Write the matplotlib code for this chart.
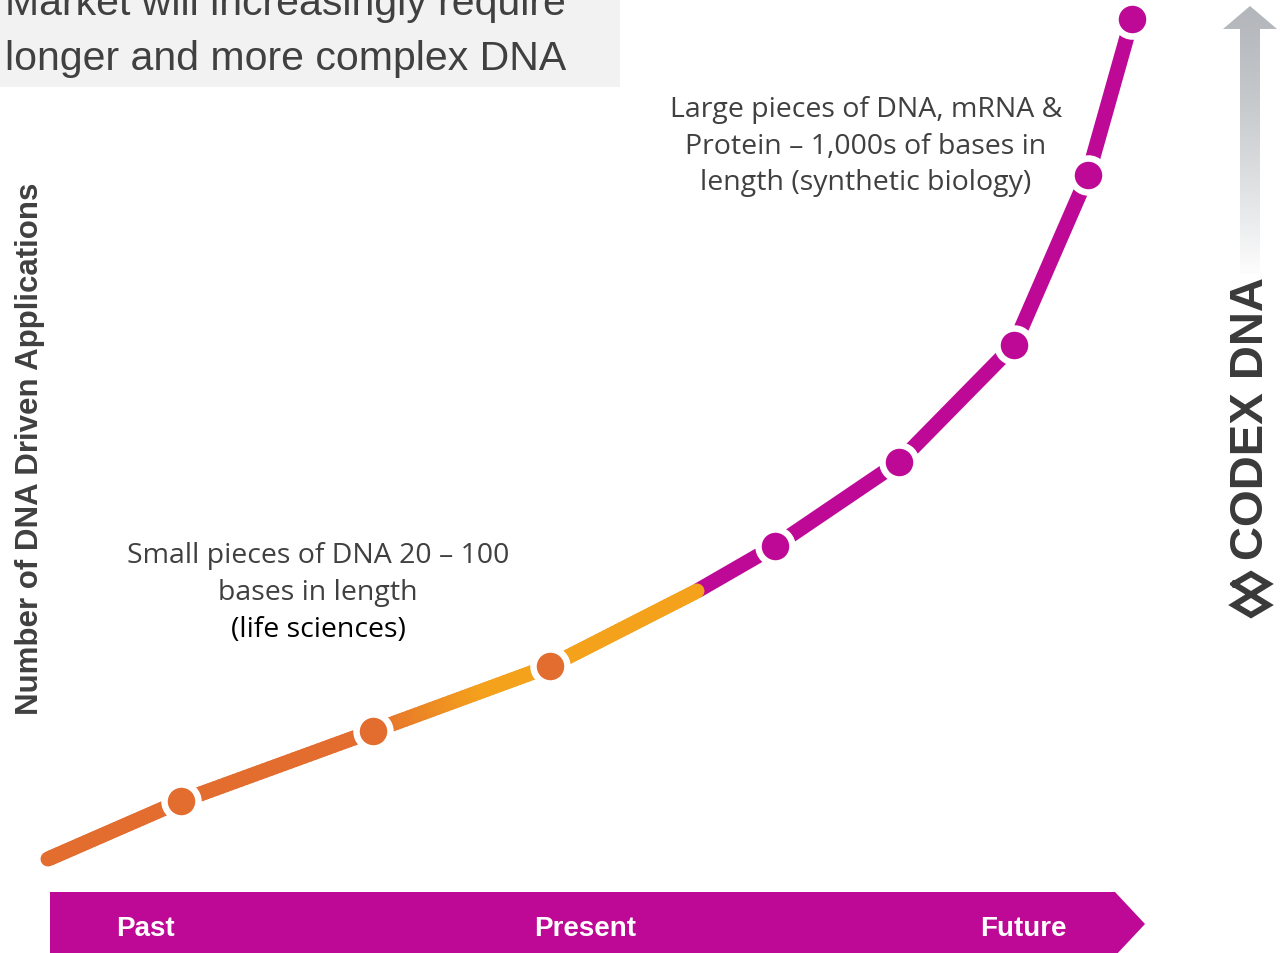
import numpy as np
import matplotlib.pyplot as plt
from matplotlib.collections import LineCollection
from matplotlib.colors import LinearSegmentedColormap, to_rgb
from matplotlib.patches import Polygon, Rectangle

# Curve: position on the timeline and number of DNA driven applications
timeline = [48, 181, 373, 550, 697, 775, 899, 1014, 1088, 1132]
applications = [94, 152, 222, 287, 362, 407, 491, 608, 778, 934]
short_dots = [1, 2, 3]          # life sciences era
long_dots = [5, 6, 7, 8, 9]     # synthetic biology era
switch = 4                      # where the curve turns magenta

periods = ['Past', 'Present', 'Future']
title_lines = ['Market will increasingly require', 'longer and more complex DNA']
short_note = ['Small pieces of DNA 20 \u2013 100', 'bases in length', '(life sciences)']
long_note = ['Large pieces of DNA, mRNA &', 'Protein \u2013 1,000s of bases in',
             'length (synthetic biology)']

MAGENTA = '#BE0896'
ORANGE = '#E36C2F'
YELLOW = '#F4A11C'
GREY_TXT = '#404040'

W, H = 1283, 954
fig = plt.figure(figsize=(W / 100, H / 100), dpi=100)
ax = fig.add_axes([0, 0, 1, 1])
ax.set_xlim(0, W)
ax.set_ylim(0, H)
ax.axis('off')

px = 72 / 100  # points per pixel
lw = 15 * px

# title box
ax.add_patch(Rectangle((0, H - 88), 620, 88, facecolor='#F2F2F2', edgecolor='none', zorder=0))
for line, base in zip(title_lines, [15, 70]):
    ax.text(5, H - base, line, fontsize=29.5, color=GREY_TXT, va='baseline', ha='left',
            family='Liberation Sans')

# magenta part of the curve
ax.plot(timeline[switch:], applications[switch:], color=MAGENTA, lw=lw,
        solid_capstyle='butt', solid_joinstyle='round', zorder=2)

# orange part, fading to yellow
x = np.array(timeline[:switch + 1], float)
y = np.array(applications[:switch + 1], float)
segs, cols = [], []
cmap = LinearSegmentedColormap.from_list('oy', [ORANGE, ORANGE, YELLOW, YELLOW])
for i in range(len(x) - 1):
    t = np.linspace(0, 1, 40)
    xs = x[i] + (x[i + 1] - x[i]) * t
    ys = y[i] + (y[i + 1] - y[i]) * t
    for j in range(len(t) - 1):
        segs.append([(xs[j], ys[j]), (xs[j + 1], ys[j + 1])])
        cols.append(cmap(np.clip((xs[j] - 250) / 350, 0, 1)))
lc = LineCollection(segs, colors=cols, linewidths=lw, capstyle='round', zorder=3)
ax.add_collection(lc)

# dots with white rings
ms = 34 * px
mew = 6.5 * px
ax.plot([timeline[i] for i in short_dots], [applications[i] for i in short_dots], 'o',
        ms=ms, mfc=ORANGE, mec='white', mew=mew, zorder=4)
ax.plot([timeline[i] for i in long_dots], [applications[i] for i in long_dots], 'o',
        ms=ms, mfc=MAGENTA, mec='white', mew=mew, zorder=4)

# annotations
note_font = ['Open Sans', 'DejaVu Sans']
for line, base, c in zip(short_note, [563, 600, 637], [GREY_TXT, GREY_TXT, 'black']):
    ax.text(318, H - base, line, fontsize=20.5, color=c, ha='center', va='baseline',
            family=note_font)
for line, base in zip(long_note, [117, 153.5, 190]):
    ax.text(866, H - base, line, fontsize=20.5, color=GREY_TXT, ha='center',
            va='baseline', family=note_font)

# y axis label
ax.text(30, H - 449, 'Number of DNA Driven Applications', rotation=90, fontsize=22.5,
        fontweight='bold', color=GREY_TXT, ha='center', va='center',
        family='Liberation Sans')

# timeline arrow band
band = Polygon([(50, H - 893), (1115, H - 893), (1145, H - 925), (1115, H - 957),
                (50, H - 957)], closed=True, facecolor=MAGENTA, edgecolor='none', zorder=1)
ax.add_patch(band)
for label, xc in zip(periods, [145, 585, 1023]):
    ax.text(xc, H - 936, label, fontsize=20, fontweight='bold', color='white',
            ha='center', va='baseline', family='Liberation Sans', zorder=5)

# grey gradient arrow on the right
cx = 1250
arrow = Polygon([(cx - 10, H - 275), (cx - 10, H - 30), (cx - 27, H - 30), (cx, H - 7),
                 (cx + 27, H - 30), (cx + 10, H - 30), (cx + 10, H - 275)],
                closed=True, facecolor='none', edgecolor='none')
ax.add_patch(arrow)
top = np.array(to_rgb('#B3B7BB'))
grad = np.linspace(0, 1, 256)[:, None] ** 1.3
img = top[None, None, :] * (1 - grad[:, :, None]) + np.ones(3)[None, None, :] * grad[:, :, None]
im = ax.imshow(img, extent=[cx - 28, cx + 28, H - 280, H - 5], origin='upper',
               aspect='auto', zorder=1)
im.set_clip_path(arrow)
ax.set_xlim(0, W)
ax.set_ylim(0, H)

ax.text(1251, H - 419, 'CODEX DNA', rotation=90, fontsize=34, fontweight='bold',
        color='#3A3A3A', ha='center', va='center', family='Liberation Sans')

# logo mark below the brand name
logo_x = [1234, 1251, 1268, 1234, 1251, 1268, 1234]
logo_y = [585, 575, 585, 606, 616, 606, 585]
ax.plot(logo_x, [H - v for v in logo_y], color='#3A3A3A', lw=6 * px,
        solid_joinstyle='miter', zorder=2)

fig.savefig('out.png', dpi=100)
